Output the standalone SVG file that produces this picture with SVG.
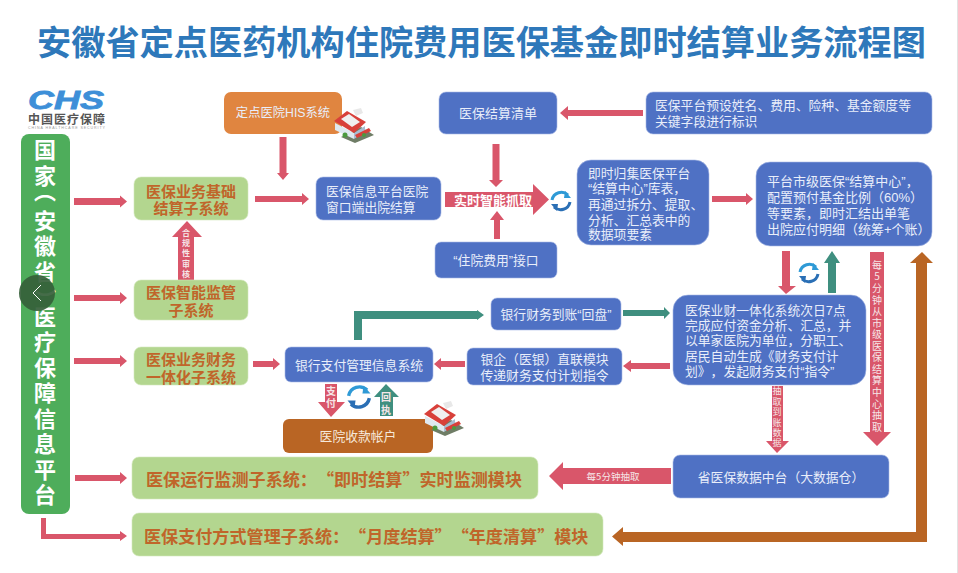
<svg xmlns="http://www.w3.org/2000/svg" xmlns:xlink="http://www.w3.org/1999/xlink" width="958" height="573" viewBox="0 0 958 573">
<style>
text{font-family:"Liberation Sans","Noto Sans CJK SC",sans-serif;dominant-baseline:central;text-spacing-trim:space-all}
.b{fill:#4f71c4;stroke:#a9bbe6;stroke-width:.6}
.g{fill:#b3d68f;stroke:#d4e8bd;stroke-width:.6}
.o{fill:#e08540}
.br{fill:#b96524}
.t{fill:#e9eefa;font-size:12.8px}
.c{text-anchor:middle}
.gt{font-family:"Noto Sans CJK SC",sans-serif;fill:#c0652a;font-weight:700;font-size:15px;text-anchor:middle}
.gl{font-family:"Noto Sans CJK SC",sans-serif;fill:#c0652a;font-weight:700;font-size:17.1px}
.red{fill:#d9566a}
.tea{fill:#3f8f7f}
.bro{fill:#b96524}
.v{font-family:"Noto Sans CJK SC",sans-serif;writing-mode:vertical-rl;text-orientation:upright;dominant-baseline:auto;fill:#f6e6e8}
.side{font-size:22px;font-weight:700;fill:#fff;letter-spacing:3.5px}
</style>
<defs>
<g id="bld">
<polygon points="8,29 28,19 41,27 22,35" fill="#6f7d66"/>
<polygon points="2,15 21,25 21,31 2,22" fill="#dfe9f0"/>
<polygon points="21,25 32,18 32,24 21,31" fill="#a9bdd2"/>
<polygon points="1,13 14,3 33,14 21,25" fill="#d8403a"/>
<polygon points="8,11 16,6 27,14 19,19" fill="#f0f0f0"/>
<polygon points="20,2 28,0 30,5 23,8" fill="#e8e8e8"/>
<polygon points="22,27 36,20 38,23 24,30" fill="#d8403a"/>
<circle cx="12" cy="27" r="2.5" fill="#4b9a3f"/>
<circle cx="31" cy="27" r="2" fill="#4b9a3f"/>
</g>
<g id="ref" fill="none" stroke-width="3">
<path d="M-9,-1 A9.5,9.5 0 0 1 7,-6" stroke="#2f9ad6"/>
<path d="M9,1 A9.5,9.5 0 0 1 -7,6" stroke="#2a6fb5"/>
<polygon points="4,-10 10,-3 3,-3" fill="#2f9ad6"/>
<polygon points="-4,10 -10,3 -3,3" fill="#2a6fb5"/>
</g>
</defs>
<rect width="958" height="573" fill="#fff"/>
<rect x="957" y="0" width="1" height="573" fill="#e2e2e2"/>
<text x="481.500" y="40" class="c" style="font-family:'Noto Sans CJK SC',sans-serif;font-weight:700;font-size:34.200px;fill:#2e78ba">安徽省定点医药机构住院费用医保基金即时结算业务流程图</text>

<g id="logo">
<text x="28" y="100" textLength="76" lengthAdjust="spacingAndGlyphs" style="font-weight:700;font-style:italic;font-size:26px;fill:#3d8fd8;stroke:#3d8fd8;stroke-width:.8">CHS</text>
<text x="28" y="118.500" textLength="77" style="font-family:'Noto Sans CJK SC',sans-serif;font-weight:700;font-size:12px;fill:#555">中国医疗保障</text>
<text x="28" y="127.500" textLength="77" style="font-size:3.600px;fill:#999">CHINA HEALTHCARE SECURITY</text>
</g>

<g id="connectors">
<polygon class="red" points="74,198 120,198 120,195.500 127,201.500 120,207.500 120,205 74,205"/>
<polygon class="red" points="74,295 120,295 120,292 127,298 120,304 120,301 74,301"/>
<polygon class="red" points="74,358 120,358 120,355 127,361 120,367 120,364 74,364"/>
<polygon class="red" points="75,475 120,475 120,472 127,478 120,484 120,481 75,481"/>
<polygon class="red" points="41,518 46,518 46,534 120,534 120,531 127,536 120,541 120,539 41,539"/>
<polygon class="red" points="255,196 302,196 302,193 309,199 302,205 302,202 255,202"/>
<polygon class="red" points="279.500,137 286.500,137 286.500,173 289,173 283,180 277,173 279.500,173"/>
<polygon class="red" points="178,280 178,237 172,237 187,221 202,237 194,237 194,280"/>
<polygon class="red" points="492.500,144 499.500,144 499.500,180 503,180 496,187 489,180 492.500,180"/>
<polygon class="red" points="643,110 568,110 568,106 560,113 568,120 568,116 643,116"/>
<polygon class="red" points="445,192 533,192 533,184 549,199.500 533,215 533,207 445,207"/>
<polygon class="red" points="494,239 494,220 490,220 497,211 504,220 500,220 500,239"/>
<polygon class="red" points="712,196 746,196 746,193 753,199 746,205 746,202 712,202"/>
<polygon class="red" points="782,251 790,251 790,286 796,286 786,294 778,286 782,286"/>
<polygon class="tea" points="828,293 828,263 824,263 832,251 840,263 836,263 836,293"/>
<polygon class="red" points="870,252 884,252 884,432 891,432 877,446 863,432 870,432"/>
<polygon class="bro" points="916,542 623,542 623,546 612,536.500 623,527 623,532 916,532 916,263 910,263 922,252 933,263 927,263 927,542"/>
<polygon class="red" points="671,468 563,468 563,462 549,476 563,490 563,484 671,484"/>
<polygon class="red" points="772,386 783,386 783,441 789,441 777,453 766,441 772,441"/>
<polygon class="tea" points="623,310 664,310 664,307 670,313 664,319 664,316 623,316"/>
<polygon class="red" points="670,363 631,363 631,360 623,366 631,372 631,369 670,369"/>
<polygon class="red" points="465,361 441,361 441,358 434,364 441,370 441,367 465,367"/>
<polygon class="red" points="253,361 273,361 273,358 280,364 273,370 273,367 253,367"/>
<polygon class="tea" points="354,340 354,311 477,311 477,310 484,315 477,320 477,319 362,319 362,340"/>
<polygon class="red" points="325,384 337,384 337,402 345,402 331,417 318,402 325,402"/>
<polygon class="tea" points="380,416 380,397 374,397 386,384 399,397 393,397 393,416"/>
<text x="186" y="229" class="v" style="font-weight:700;font-size:8px;letter-spacing:2.200px">合规性审核</text>
<text x="877" y="260" class="v" style="font-size:10px;letter-spacing:1.570px">每5分钟从市级医保结算中心抽取</text>
<text x="777" y="386.500" class="v" style="font-size:9px;letter-spacing:1.400px">抽取到账数据</text>
<text x="613" y="476" class="c" style="font-family:'Noto Sans CJK SC',sans-serif;font-size:9.500px;fill:#f6e6e8">每5分钟抽取</text>
<text x="331" y="386" class="v" style="font-weight:700;font-size:10px;letter-spacing:2px">支付</text>
<text x="386" y="392" class="v" style="font-weight:700;font-size:10px;letter-spacing:3px">回执</text>
<text x="493" y="199.500" class="c" style="font-family:'Noto Sans CJK SC',sans-serif;font-weight:700;font-size:13px;fill:#fff">实时智能抓取</text>
<use xlink:href="#ref" href="#ref" transform="translate(561,201)"/>
<use xlink:href="#ref" href="#ref" transform="translate(809,273)"/>
<use xlink:href="#ref" href="#ref" transform="translate(359,397) scale(1.15)"/>
</g>

<g id="n-side">
<rect x="21" y="134" width="49" height="380" rx="8" fill="#4ead5b"/>
<text x="45" y="139" class="v side">国<tspan style="letter-spacing:-6.500px">家</tspan><tspan style="letter-spacing:7.500px">︵</tspan>安徽<tspan style="letter-spacing:6.500px">省</tspan><tspan style="letter-spacing:-5.500px">︶</tspan>医疗保障信息平台</text>
</g>
<g id="nav"><circle cx="37" cy="293" r="18" fill="#355f3a" fill-opacity=".92"/><polyline points="41,285 33,293 41,301" fill="none" stroke="#fff" stroke-width="1"/></g>

<g id="n-his"><rect class="o" x="224" y="92" width="118" height="42" rx="7"/><text x="283" y="113" class="t c" style="font-size:12.300px">定点医院HIS系统</text></g>
<g id="n-list"><rect class="b" x="439" y="92" width="118" height="42" rx="7"/><text x="498" y="113" class="t c" style="font-size:13px">医保结算清单</text></g>
<g id="n-preset"><rect class="b" x="646" y="92" width="286" height="42" rx="7"/><text x="655" y="105" class="t">医保平台预设姓名、费用、险种、基金额度等</text><text x="655" y="121" class="t">关键字段进行标识</text></g>
<g id="n-center"><rect class="b" x="577" y="160" width="132" height="85" rx="14"/><text x="588" y="173" class="t">即时归集医保平台</text><text x="588" y="188" class="t">“结算中心”库表，</text><text x="588" y="204" class="t">再通过拆分、提取、</text><text x="588" y="220" class="t">分析、汇总表中的</text><text x="588" y="234" class="t">数据项要素</text></g>
<g id="n-city"><rect class="b" x="756" y="162" width="176" height="84" rx="14"/><text x="767" y="181" class="t" style="font-size:13px">平台市级医保“结算中心”，</text><text x="767" y="197" class="t" style="font-size:13px">配置预付基金比例（60%）</text><text x="767" y="213" class="t" style="font-size:13px">等要素，即时汇结出单笔</text><text x="767" y="229" class="t" style="font-size:13px">出院应付明细（统筹+个账）</text></g>
<g id="n-window"><rect class="b" x="316" y="177" width="125" height="43" rx="7"/><text x="326" y="191" class="t">医保信息平台医院</text><text x="326" y="207" class="t">窗口端出院结算</text></g>
<g id="n-api"><rect class="b" x="435" y="242" width="122" height="36" rx="6"/><text x="496" y="260" class="t c">“住院费用”接口</text></g>
<g id="n-back"><rect class="b" x="491" y="298" width="130" height="32" rx="6"/><text x="556" y="314" class="t c">银行财务到账“回盘”</text></g>
<g id="n-direct"><rect class="b" x="467" y="348" width="155" height="37" rx="6"/><text x="544.500" y="359" class="t c">银企（医银）直联模块</text><text x="544.500" y="375" class="t c">传递财务支付计划指令</text></g>
<g id="n-bank"><rect class="b" x="285" y="347" width="148" height="35" rx="6"/><text x="359" y="365" class="t c">银行支付管理信息系统</text></g>
<g id="n-account"><rect class="br" x="283" y="419" width="150" height="34" rx="6"/><text x="358" y="436" class="t c" style="fill:#f6e8da">医院收款帐户</text></g>
<g id="n-fin"><rect class="b" x="673" y="295" width="193" height="90" rx="15"/><text x="685" y="310" class="t">医保业财一体化系统次日7点</text><text x="685" y="325" class="t">完成应付资金分析、汇总，并</text><text x="685" y="340" class="t">以单家医院为单位，分职工、</text><text x="685" y="356" class="t">居民自动生成《财务支付计</text><text x="685" y="371" class="t">划》，发起财务支付“指令”</text></g>
<g id="n-dw"><rect class="b" x="673" y="455" width="216" height="43" rx="7"/><text x="781" y="477" class="t c">省医保数据中台（大数据仓）</text></g>
<g id="n-basic"><rect class="g" x="134" y="177" width="114" height="43" rx="7"/><text class="gt"><tspan x="191" y="190">医保业务基础</tspan><tspan x="191" y="207">结算子系统</tspan></text></g>
<g id="n-audit"><rect class="g" x="134" y="280" width="114" height="40" rx="7"/><text class="gt"><tspan x="191" y="291">医保智能监管</tspan><tspan x="191" y="309">子系统</tspan></text></g>
<g id="n-finance"><rect class="g" x="134" y="347" width="114" height="38" rx="7"/><text class="gt"><tspan x="191" y="358">医保业务财务</tspan><tspan x="191" y="376">一体化子系统</tspan></text></g>
<g id="n-run"><rect class="g" x="132" y="457" width="406" height="42" rx="7"/><text x="146" y="478" class="gl">医保运行监测子系统：“即时结算”实时监测模块</text></g>
<g id="n-pay"><rect class="g" x="132" y="513" width="471" height="43" rx="7"/><text x="144" y="535" class="gl">医保支付方式管理子系统：“月度结算”“年度清算”模块</text></g>
<g id="icons">
<use xlink:href="#bld" href="#bld" transform="translate(333,108)"/>
<use xlink:href="#bld" href="#bld" transform="translate(423,401)"/>
</g>
</svg>
